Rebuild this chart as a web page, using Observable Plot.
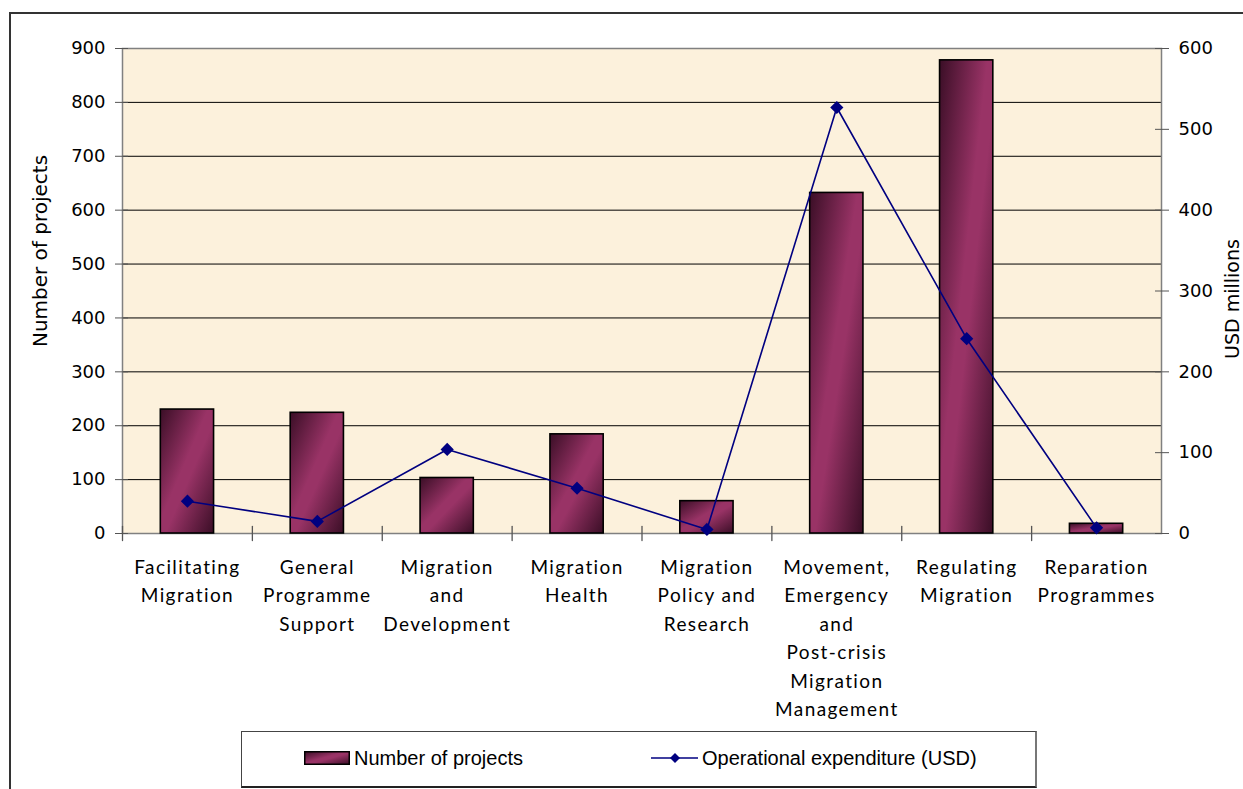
<!DOCTYPE html>
<html>
<head>
<meta charset="utf-8">
<script src="https://cdn.jsdelivr.net/npm/d3@7"></script>
<script src="https://cdn.jsdelivr.net/npm/@observablehq/plot@0.6"></script>
<style>
  html, body { margin: 0; padding: 0; background: #fff; overflow: hidden; }
  #page { position: relative; width: 1243px; height: 789px; }
  #outer { position: absolute; left: 9px; top: 12px; width: 1300px; height: 800px;
           border-left: 2px solid #333; border-top: 2px solid #333; }
  #chart { position: absolute; left: 0; top: 0; }
  #legend { position: absolute; left: 241px; top: 731px; width: 793px; height: 54px;
            border: 1px solid #444; border-right: 2px solid #777; border-bottom: 2px solid #222;
            background: #fff; font-family: "Liberation Sans", Arial, sans-serif; font-size: 20px; }
  #legend .item { position: absolute; top: 0; height: 52px; display: flex; align-items: center; }
</style>
</head>
<body>
<div id="page">
  <div id="outer"></div>
  <div id="chart"></div>
  <div id="legend"></div>
</div>
<script>
// Programme areas on the x axis
const categories = [
  "Facilitating Migration",
  "General Programme Support",
  "Migration and Development",
  "Migration Health",
  "Migration Policy and Research",
  "Movement, Emergency and Post-crisis Migration Management",
  "Regulating Migration",
  "Reparation Programmes"
];
// How each category label breaks into lines under the axis
const categoryLabels = [
  "Facilitating\nMigration",
  "General\nProgramme\nSupport",
  "Migration\nand\nDevelopment",
  "Migration\nHealth",
  "Migration\nPolicy and\nResearch",
  "Movement,\nEmergency\nand\nPost-crisis\nMigration\nManagement",
  "Regulating\nMigration",
  "Reparation\nProgrammes"
];
// Number of projects per area (left axis)
const projects = [230, 224, 103, 184, 60, 632, 878, 18];
// Operational expenditure in USD millions (right axis)
const expenditure = [40, 15, 104, 56, 5, 527, 241, 7];

const leftTicks = [0, 100, 200, 300, 400, 500, 600, 700, 800, 900];
const rightTicks = [0, 100, 200, 300, 400, 500, 600];
const seriesNames = ["Number of projects", "Operational expenditure (USD)"];
const axisTitles = ["Number of projects", "USD millions"];

// right axis maps 0–600 onto the left axis' 0–900
const ratio = leftTicks[leftTicks.length - 1] / rightTicks[rightTicks.length - 1];

const data = categories.map((c, i) => ({
  category: c, label: categoryLabels[i], projects: projects[i], usd: expenditure[i]
}));

const W = 1243, H = 730;
const mL = 122, mR = 82, mT = 48, mB = 197;
const step = (W - mL - mR) / categories.length;
const navy = "#000080";
const tickInk = "#555";

const tickLine = { draw(context, l) { context.moveTo(0, 0); context.lineTo(0, -l); } };

const chart = Plot.plot({
  width: W, height: H,
  marginLeft: mL, marginRight: mR, marginTop: mT, marginBottom: mB,
  style: { background: "transparent", overflow: "visible", fontFamily: "DejaVu Sans, sans-serif" },
  x: { type: "band", domain: categories, paddingInner: 0.59, paddingOuter: 0.295, round: false, axis: null },
  y: { domain: [0, 900], axis: null },
  marks: [
    Plot.frame({ fill: "#fcf1dc", stroke: null }),
    Plot.ruleY(leftTicks.filter(v => v > 0 && v < 900), { stroke: "#000", strokeWidth: 1 }),
    Plot.frame({ stroke: "#808080", strokeWidth: 1.5 }),
    Plot.barY(data, { x: "category", y: "projects", fill: "url(#barGradient)", stroke: "#000", strokeWidth: 1.6 }),
    Plot.lineY(data, { x: "category", y: d => d.usd * ratio, stroke: navy, strokeWidth: 1.6 }),
    Plot.dot(data, { x: "category", y: d => d.usd * ratio, symbol: "diamond2", r: 5, fill: navy, stroke: navy }),
    // category separators on the x axis
    Plot.vector(categories, { x: d => d, y: 0, dx: -step / 2, length: 14, anchor: "middle",
      shape: tickLine, stroke: tickInk, strokeWidth: 1.3 }),
    Plot.axisY(leftTicks, { anchor: "left", tickSize: 13, dx: 6, tickPadding: 10, fontSize: 18,
      stroke: tickInk, fill: "#000", label: null }),
    Plot.axisY(rightTicks.map(v => v * ratio), { anchor: "right", tickSize: 14, dx: -7, tickPadding: 10,
      fontSize: 18, stroke: tickInk, fill: "#000", tickFormat: v => v / ratio, label: null }),
    Plot.text(data, { x: "category", text: "label", frameAnchor: "bottom", lineAnchor: "top",
      dy: 20, lineHeight: 1.5, fontSize: 19, fontFamily: "Lato", fill: "#000" }),
    Plot.text([axisTitles[0]], { frameAnchor: "left", textAnchor: "middle", rotate: -90, dx: -82, dy: -40,
      fontSize: 20, fill: "#000" }),
    Plot.text([axisTitles[1]], { frameAnchor: "right", textAnchor: "middle", rotate: -90, dx: 71, dy: 8,
      fontSize: 19, fill: "#000" })
  ]
});

// shaded fill for the bars
const defs = d3.select(chart).insert("defs", ":first-child");
const grad = defs.append("linearGradient").attr("id", "barGradient")
  .attr("x1", 0).attr("y1", 0).attr("x2", 1).attr("y2", 1);
[[0, "#3a0e26"], [0.45, "#993366"], [0.55, "#993366"], [1, "#3a0e26"]].forEach(([o, c]) =>
  grad.append("stop").attr("offset", o).attr("stop-color", c));

d3.select(chart).selectAll('g[font-family="Lato"] text').attr("letter-spacing", "1.4px");

document.getElementById("chart").appendChild(chart);

// legend
const legend = document.getElementById("legend");
legend.innerHTML = `
  <div class="item" style="left:62px">
    <svg width="46" height="14" style="margin-right:4px"><rect x="0.75" y="0.75" width="44.5" height="12.5"
      fill="url(#barGradient)" stroke="#000" stroke-width="1.5"/></svg>${seriesNames[0]}</div>
  <div class="item" style="left:409px">
    <svg width="48" height="14" style="margin-right:3px"><line x1="0" y1="7" x2="47" y2="7" stroke="${navy}" stroke-width="1.6"/>
      <path d="M24,2 L29,7 L24,12 L19,7 Z" fill="${navy}"/></svg>${seriesNames[1]}</div>`;
</script>
</body>
</html>
